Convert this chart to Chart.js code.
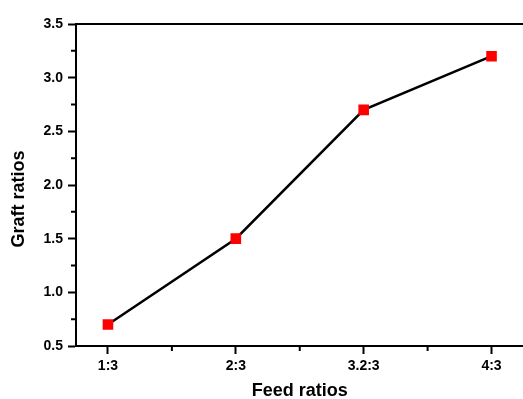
<!DOCTYPE html>
<html>
<head>
<meta charset="utf-8">
<script src="https://cdn.jsdelivr.net/npm/chart.js@4/dist/chart.umd.min.js"></script>
<style>
  html, body { margin: 0; padding: 0; background: #fff; overflow: hidden; }
  #wrap { width: 531px; height: 399px; }
</style>
</head>
<body>
<div id="wrap"><canvas id="chart"></canvas></div>
<script>
const feedRatios = ["1:3", "2:3", "3.2:3", "4:3"];
const graftRatios = [0.7, 1.5, 2.7, 3.2];
const yTicks = [0.5, 1.0, 1.5, 2.0, 2.5, 3.0, 3.5];
const yTitle = "Graft ratios";

const FONT = "'Liberation Sans', Arial, sans-serif";

// minor ticks, top frame line and the y title (sits a bit below centre)
const frame = {
  id: "frame",
  afterDraw(chart) {
    const ctx = chart.ctx;
    const area = chart.chartArea;
    const x = chart.scales.x;
    const y = chart.scales.y;
    ctx.save();
    ctx.strokeStyle = "#000";
    ctx.lineWidth = 2;
    ctx.beginPath();
    ctx.moveTo(area.left - 1, area.top);
    ctx.lineTo(area.right, area.top);
    ctx.stroke();
    ctx.beginPath();
    for (let i = 0; i < yTicks.length - 1; i++) {
      const py = y.getPixelForValue((yTicks[i] + yTicks[i + 1]) / 2);
      ctx.moveTo(area.left - 5, py);
      ctx.lineTo(area.left, py);
    }
    for (let i = 0; i < feedRatios.length - 1; i++) {
      const px = x.getPixelForValue(i + 0.5);
      ctx.moveTo(px, area.bottom);
      ctx.lineTo(px, area.bottom + 5);
    }
    ctx.stroke();

    ctx.translate(19, y.getPixelForValue(2.0) + 14);
    ctx.rotate(-Math.PI / 2);
    ctx.fillStyle = "#000";
    ctx.font = "bold 18px " + FONT;
    ctx.textAlign = "center";
    ctx.textBaseline = "middle";
    ctx.fillText(yTitle, 0, 0);
    ctx.restore();
  },
};

new Chart(document.getElementById("chart"), {
  type: "line",
  data: {
    datasets: [
      {
        data: graftRatios.map((v, i) => ({ x: i, y: v })),
        borderColor: "#000",
        borderWidth: 2.5,
        pointStyle: "rect",
        pointRadius: 7.5,
        pointBackgroundColor: "#ff0000",
        pointBorderColor: "#ff0000",
        pointBorderWidth: 0,
        tension: 0,
      },
    ],
  },
  options: {
    responsive: true,
    maintainAspectRatio: false,
    animation: false,
    layout: { padding: { top: 24, left: 0, right: 0, bottom: 0 } },
    plugins: { legend: { display: false }, tooltip: { enabled: false } },
    scales: {
      x: {
        type: "linear",
        min: -0.25,
        max: 3.25,
        afterBuildTicks: (scale) => {
          scale.ticks = feedRatios.map((c, i) => ({ value: i }));
        },
        afterFit: (scale) => {
          scale.height = 53;
        },
        ticks: {
          callback: (v) => feedRatios[v],
          color: "#000",
          font: { family: FONT, weight: "bold", size: 14 },
          padding: 4,
          maxRotation: 0,
        },
        grid: {
          drawOnChartArea: false,
          tickLength: 8,
          tickWidth: 2,
          color: "#000",
        },
        border: { color: "#000", width: 2 },
        title: {
          display: true,
          text: "Feed ratios",
          color: "#000",
          font: { family: FONT, weight: "bold", size: 18, lineHeight: 0.9 },
          padding: { top: 6, bottom: 0 },
        },
      },
      y: {
        min: 0.5,
        max: 3.5,
        afterBuildTicks: (scale) => {
          scale.ticks = yTicks.map((v) => ({ value: v }));
        },
        afterFit: (scale) => {
          scale.width = 76;
        },
        ticks: {
          callback: (v) => v.toFixed(1),
          color: "#000",
          font: { family: FONT, weight: "bold", size: 14 },
          padding: 5,
        },
        grid: {
          drawOnChartArea: false,
          tickLength: 8,
          tickWidth: 2,
          color: "#000",
        },
        border: { color: "#000", width: 2 },
      },
    },
  },
  plugins: [frame],
});
</script>
</body>
</html>
